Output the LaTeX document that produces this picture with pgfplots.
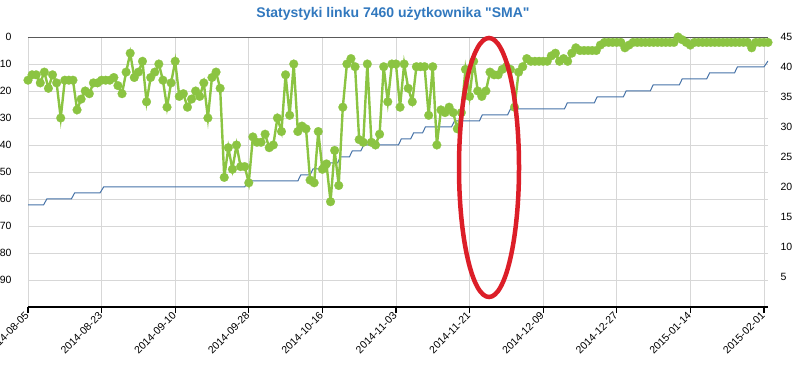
\documentclass[border=0pt]{standalone}
\usepackage{fontspec}
\setmainfont{Liberation Sans}
\newfontfamily\titlefont{Liberation Sans}[Ligatures=TeXOff]
\usepackage{pgfplots}
\pgfplotsset{compat=1.18}
\definecolor{sgreen}{RGB}{139,196,66}
\definecolor{sblue}{RGB}{69,114,167}
\definecolor{tblue}{RGB}{49,120,190}
\definecolor{ered}{RGB}{220,30,40}
\definecolor{gridc}{RGB}{215,215,215}
\pgfplotsset{base/.style={width=740pt,height=270pt,scale only axis,
  at={(28pt,57pt)}, anchor=south west, xmin=0, xmax=181,
  /pgf/number format/assume math mode=true,
  tick label style={font=\fontsize{10.5}{12}\selectfont}}}
\begin{document}
\begin{tikzpicture}
\path[use as bounding box] (0,0) rectangle (797pt,364pt);
\begin{axis}[base, ymin=0, ymax=100, y dir=reverse,
  ytick={10,20,...,90}, extra y ticks={0},
  extra y tick style={grid=major, major grid style={draw=black!65, line width=0.9pt}},
  xtick={0,18,...,180},
  xticklabels={2014-08-05,2014-08-23,2014-09-10,2014-09-28,2014-10-16,2014-11-03,2014-11-21,2014-12-09,2014-12-27,2015-01-14,2015-02-01},
  grid=major, grid style={gridc, line width=0.7pt},
  axis x line*=bottom, axis y line*=left,
  y axis line style={draw=none}, x axis line style={black, line width=1.6pt},
  ytick style={draw=none}, xtick style={black, line width=1.2pt},
  tick align=outside, major tick length=6pt,
  xticklabel style={rotate=45, anchor=east, xshift=2pt},
  yticklabel style={anchor=east, xshift=-7pt}]
\addplot[draw=none] coordinates {(0,0)};
\end{axis}
\begin{axis}[base, ymin=0, ymax=45,
  axis y line*=right, axis x line=none,
  ytick={5,10,...,45}, ytick style={draw=none}, y axis line style={draw=none},
  yticklabel style={anchor=west, xshift=9pt}]
\addplot[sblue, line width=1pt] coordinates {
(0,17) (3.8,17) (4.6,18) (10.6,18) (11.4,19) (17.6,19) (18.5,20) (53,20) (53.8,21)
(66,21) (66.7,22) (69,22) (69.7,23) (72,23) (72.7,24) (75.7,24) (76.4,25) (78.6,25)
(79.3,26) (81.4,26) (82.1,27) (90.6,27) (91.3,28) (93.6,28) (94.3,29) (96.5,29)
(97.2,30) (103.6,30) (104.3,31) (110.4,31) (111.1,32) (117.3,32) (118,33) (131.2,33)
(131.9,34) (138.5,34) (139.2,35) (145.6,35) (146.3,36) (152.2,36) (152.9,37) (159.3,37)
(160,38) (166,38) (166.7,39) (172.8,39) (173.5,40) (180,40) (181,41)};
\end{axis}
\begin{axis}[base, ymin=0, ymax=100, y dir=reverse, hide axis, clip=false]
\addplot[sgreen, line width=2.4pt, mark=*, mark size=4.4pt,
  mark options={fill=sgreen, draw=sgreen, line width=0.2pt}] coordinates {
(0,16) (1,14) (2,14) (3,17) (4,13) (5,19) (6,14) (7,17) (8,30) (9,16)
(10,16) (11,16) (12,27) (13,23) (14,20) (15,21) (16,17) (17,17) (18,16) (19,16)
(20,16) (21,15) (22,18) (23,21) (24,13) (25,6) (26,15) (27,13) (28,9) (29,24)
(30,15) (31,13) (32,10) (33,16) (34,26) (35,17) (36,9) (37,22) (38,21) (39,26)
(40,23) (41,20) (42,22) (43,17) (44,30) (45,15) (46,13) (47,19) (48,52) (49,41)
(50,49) (51,40) (52,48) (53,48) (54,54) (55,37) (56,39) (57,39) (58,36) (59,41)
(60,40) (61,30) (62,35) (63,14) (64,29) (65,10) (66,35) (67,33) (68,34) (69,53)
(70,54) (71,35) (72,49) (72.5,48) (73,47) (74,61) (75,42) (76,55) (77,26) (78,10)
(79,8) (80,11) (81,38) (82,39) (83,10) (84,39) (85,40) (86,36) (87,11) (88,24)
(89,10) (90,10) (91,26) (92,10) (93,19) (94,24) (95,11) (96,11) (97,11) (98,29)
(99,11) (100,40) (101,27) (102,28) (103,26) (104,28) (105,34) (106,28) (107,12) (108,22)
(109,9) (110,20) (111,22) (112,20) (113,13) (114,14) (115,14) (116,12) (117,11) (118,12)
(119,26) (120,13) (121,11) (122,8) (123,9) (124,9) (125,9) (126,9) (127,9) (128,7)
(129,6) (130,9) (131,8) (132,9) (133,6) (134,4) (135,5) (136,5) (137,5) (138,5)
(139,5) (140,3) (141,2) (142,2) (143,2) (144,2) (145,2) (146,4) (147,3) (148,2)
(149,2) (150,2) (151,2) (152,2) (153,2) (154,2) (155,2) (156,2) (157,2) (158,2)
(159,0) (160,1) (161,2) (162,3) (163,2) (164,2) (165,2) (166,2) (167,2) (168,2)
(169,2) (170,2) (171,2) (172,2) (173,2) (174,2) (175,2) (176,2) (177,4) (178,2)
(179,2) (180,2) (181,2)};
\end{axis}
\draw[ered, line width=4.5pt] (489pt,196.5pt) ellipse (30pt and 129.5pt);
\node[font=\titlefont\bfseries\fontsize{14}{16}\selectfont, text=tblue] at (393pt,350pt) {Statystyki linku 7460 użytkownika "SMA"};
\end{tikzpicture}
\end{document}
